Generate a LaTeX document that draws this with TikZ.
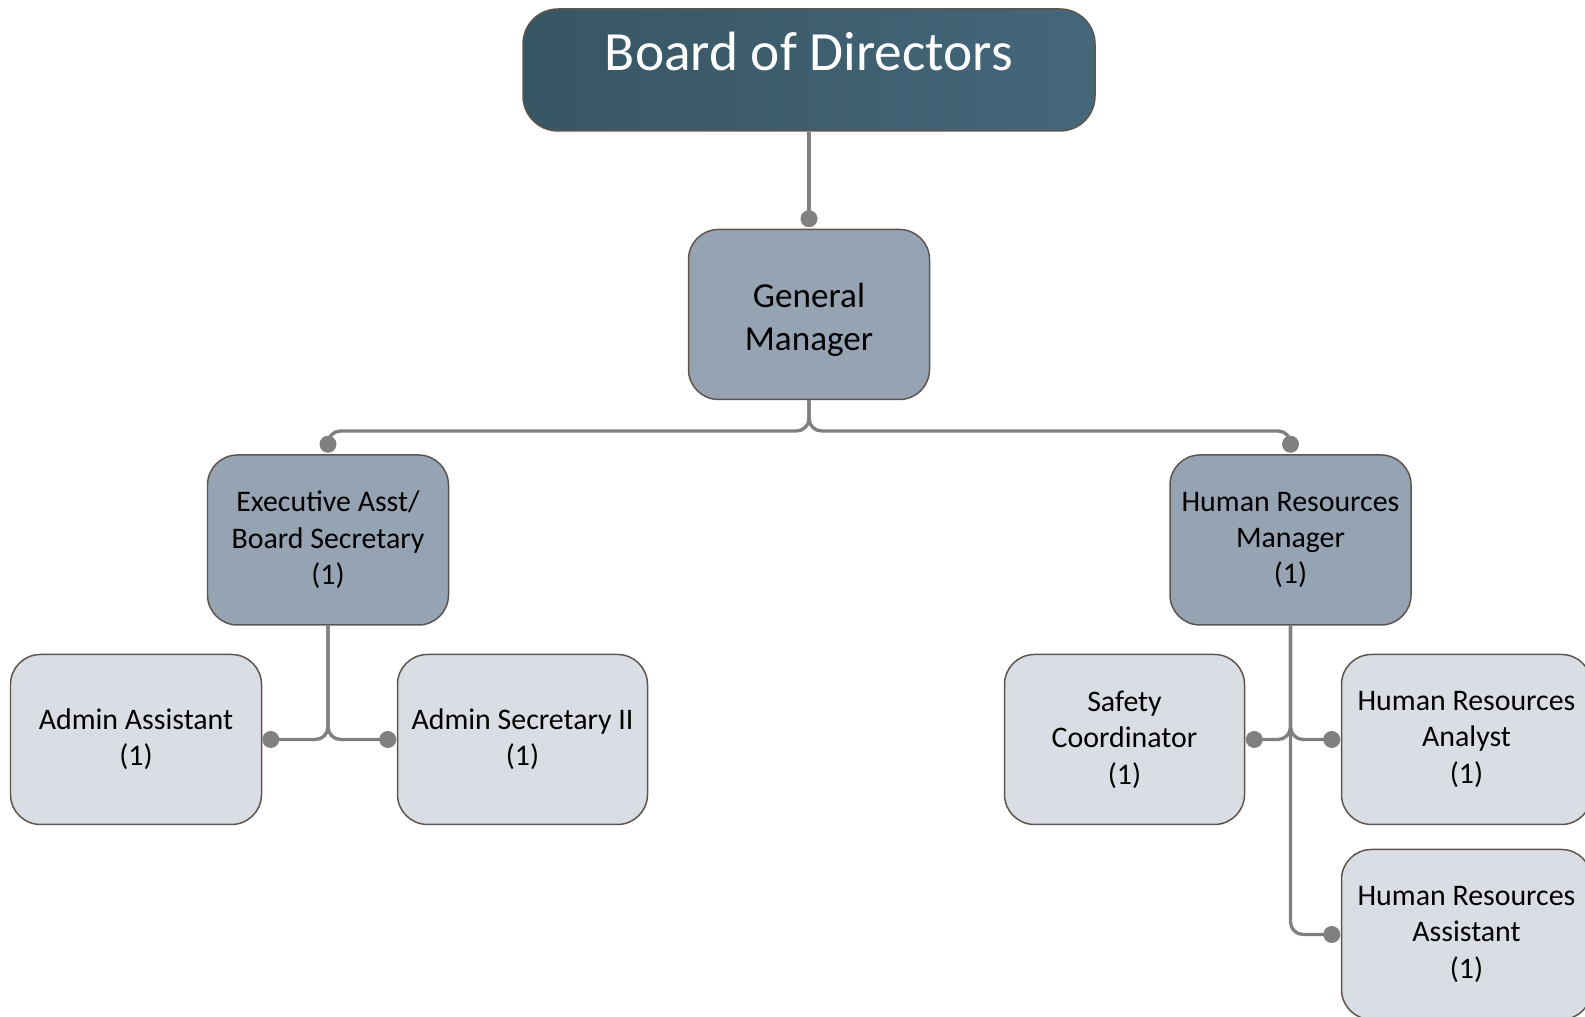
\documentclass[tikz,border=0pt]{standalone}
\usepackage{fontspec}
\setmainfont{Carlito}
\usepackage{tikz}
\usetikzlibrary{positioning, calc}

\definecolor{boardL}{HTML}{375664}
\definecolor{boardR}{HTML}{45677A}
\definecolor{midfill}{HTML}{95A3B3}
\definecolor{lightfill}{HTML}{DADEE4}
\definecolor{edge}{HTML}{5F554F}
\definecolor{wire}{HTML}{808080}

\begin{document}
\begin{tikzpicture}[
        board/.style={rectangle, draw=edge, line width=0.85pt, left color=boardL, right color=boardR, rounded corners=0.7cm, minimum width=11.44cm, minimum height=2.44cm},
        manager/.style={rectangle, draw=edge, line width=0.85pt, fill=midfill, rounded corners=0.6cm, minimum width=4.82cm, minimum height=3.4cm, align=center, font=\fontsize{17}{20.7}\selectfont},
        staff/.style={rectangle, draw=edge, line width=0.85pt, fill=lightfill, rounded corners=0.6cm, minimum height=3.4cm, align=center, font=\fontsize{17}{20.7}\selectfont},
        link/.style={draw=wire, line width=1.9pt, rounded corners=0.25cm},
        dot/.style={fill=wire, circle, inner sep=0pt, minimum size=0.34cm}
    ]
    \useasboundingbox (0,0) rectangle (31.7,20.32);

    % --- TOP ---
    \node (bod) [board, label={[font=\fontsize{31.5}{36}\selectfont, text=white, yshift=0.37cm]center:Board of Directors}] at (16.18,18.92) {};
    \node (gm) [manager, below=1.94cm of bod, label={[align=center, font=\fontsize{20}{24.5}\selectfont, yshift=-0.1cm]center:General\\Manager}] {};

    % --- SECOND ROW ---
    \node (exec) [manager, below=1.08cm of gm, xshift=-9.62cm] {Executive Asst/\\Board Secretary\\(1)};
    \node (hrm) [manager, below=1.08cm of gm, xshift=9.63cm] {Human Resources\\Manager\\(1)};

    % --- STAFF ---
    \node (aa) [staff, minimum width=5.02cm, below=0.56cm of exec, xshift=-3.84cm] {Admin Assistant\\(1)};
    \node (as2) [staff, minimum width=5.0cm, below=0.56cm of exec, xshift=3.89cm] {Admin Secretary II\\(1)};
    \node (sc) [staff, minimum width=4.8cm, below=0.56cm of hrm, xshift=-3.32cm] {Safety\\Coordinator\\(1)};
    \node (hra) [staff, minimum width=5.0cm, below=0.56cm of hrm, xshift=3.52cm] {Human Resources\\Analyst\\(1)};
    \node (hrs) [staff, minimum width=5.0cm, below=0.47cm of hra] {Human Resources\\Assistant\\(1)};

    % --- CONNECTORS ---
    \coordinate (bus) at (0,11.70);
    \node (gmin) [dot] at ($(gm.north)+(0,0.2)$) {};
    \node (execin) [dot] at ($(exec.north)+(0,0.2)$) {};
    \node (hrmin) [dot] at ($(hrm.north)+(0,0.2)$) {};
    \node (aain) [dot] at ($(aa.east)+(0.17,0)$) {};
    \node (as2in) [dot] at ($(as2.west)+(-0.18,0)$) {};
    \node (scin) [dot] at ($(sc.east)+(0.18,0)$) {};
    \node (hrain) [dot] at ($(hra.west)+(-0.18,0)$) {};
    \node (hrsin) [dot] at ($(hrs.west)+(-0.18,0)$) {};

    \draw [link] (bod.south) -- (gmin.center);
    \draw [link] (gm.south) |- (execin |- bus) -- (execin.center);
    \draw [link] (gm.south) |- (hrmin |- bus) -- (hrmin.center);

    \draw [link] (exec.south) |- (aain.center);
    \draw [link] (exec.south) |- (as2in.center);

    \draw [link] (hrm.south) |- (scin.center);
    \draw [link] (hrm.south) |- (hrain.center);
    \draw [link] (hrm.south) |- (hrsin.center);

    \end{tikzpicture}
\end{document}
